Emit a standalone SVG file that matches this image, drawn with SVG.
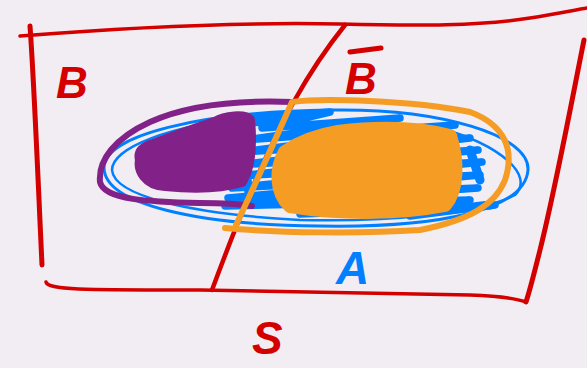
<svg xmlns="http://www.w3.org/2000/svg" width="587" height="368" viewBox="0 0 587 368">
<style>
.red{fill:none;stroke:#d40000;stroke-linecap:round;stroke-linejoin:round}
.blue{fill:none;stroke:#0080ff;stroke-linecap:round;stroke-linejoin:round}
.pur{fill:none;stroke:#822188;stroke-linecap:round;stroke-linejoin:round}
.org{fill:none;stroke:#f59c25;stroke-linecap:round;stroke-linejoin:round}
.lbl{font-family:"Liberation Sans",Arial,sans-serif;font-weight:bold;font-style:italic}
</style>
<rect width="587" height="368" fill="#f2ecf3"/>
<g id="frame-S">
<path class="red" stroke-width="3.5" d="M20,36 C120,28 240,22 340,24 C420,26 480,26 530,18 C555,14 575,10 587,8"/>
<path class="red" stroke-width="5" d="M30,26 C34,80 38,180 42,265"/>
<path class="red" stroke-width="3.5" d="M46,282 C48,290 80,290 200,290 C320,292 430,294 470,295 C500,296 515,298 526,302"/>
<path class="red" stroke-width="5" d="M584,40 C570,110 555,190 540,250 C535,270 530,290 526,302"/>
<path class="red" stroke-width="4.5" d="M212,290 C225,255 240,215 258,175 C280,125 305,75 345,25"/>
</g>
<g id="region-A">
<path class="blue" stroke-width="3" d="M330,110 C440,108 530,135 528,170 C525,210 440,228 320,226 C200,225 105,205 104,168 C104,135 200,112 330,110 Z"/>
<path class="blue" stroke-width="2.5" d="M250,118 C170,125 112,148 112,170 C114,196 190,214 300,220 C390,222 480,214 515,195 C535,175 500,145 440,128"/>
<path class="blue" stroke-width="7.5" d="M250,118 L330,112 L262,128 L400,118 L245,140 L455,125 L240,152 L470,138 L236,165 L478,150 L238,176 L482,162 L232,188 L480,175 L228,198 L478,188 L225,206 L470,200 L300,214 L460,208 L410,216 L495,205"/>
<path class="blue" stroke-width="9" d="M250,122 L300,120 M430,212 L490,205 M470,150 L480,180 M320,212 L400,212 M240,130 L250,200"/>
</g>
<g id="region-purple">
<path fill="#822188" stroke="#822188" stroke-width="10" stroke-linejoin="round" d="M150,145 C170,138 195,128 215,122 C225,116 245,114 250,120 C252,140 252,165 242,182 C215,190 185,188 165,186 C145,185 138,170 140,160 C138,152 142,148 150,145 Z"/>
<path class="pur" stroke-width="6" d="M292,102 C240,100 190,104 150,122 C115,138 98,160 100,182 C104,200 150,202 200,203 C230,203 240,204 252,206"/>
</g>
<g id="region-orange">
<path fill="#f59c25" stroke="#f59c25" stroke-width="14" stroke-linejoin="round" d="M285,152 C300,142 320,135 338,132 C370,128 410,126 450,136 C458,160 458,190 445,205 C400,214 340,214 290,206 C275,192 276,168 285,152 Z"/>
<path class="org" stroke-width="6" d="M292,102 C320,98 410,100 470,112 C505,125 515,150 505,180 C495,205 470,220 420,230 C360,234 280,233 225,228 M292,102 C275,140 255,185 236,225"/>
</g>
<g id="labels">
<text class="lbl" x="56" y="98" font-size="44" fill="#d40000">B</text>
<text class="lbl" x="345" y="94" font-size="44" fill="#d40000">B</text>
<path class="red" stroke-width="5" d="M350,52 L381,48"/>
<text class="lbl" x="336" y="284" font-size="46" fill="#0080ff">A</text>
<text class="lbl" x="252" y="354" font-size="46" fill="#d40000">S</text>
</g>
</svg>
